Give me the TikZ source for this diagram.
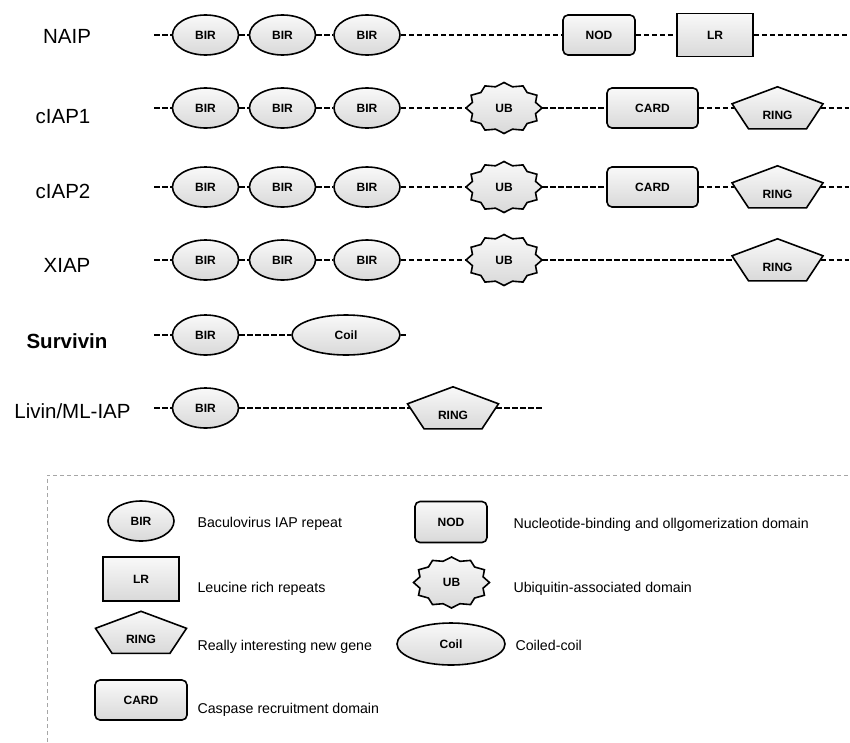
\documentclass[tikz,border=0pt]{standalone}
\usepackage{fontspec}
\setmainfont{Liberation Sans}
\usetikzlibrary{shapes.geometric, backgrounds}

\begin{document}
\begin{tikzpicture}[x=1pt, y=-1pt,
  dom/.style={draw, line width=1.6pt, top color=gray!5, bottom color=gray!30, inner sep=0pt, font=\bfseries\fontsize{12}{14}\selectfont},
  bir/.style={dom, ellipse, minimum width=66pt, minimum height=40pt},
  coil/.style={dom, ellipse, minimum width=108pt, minimum height=40pt},
  nod/.style={dom, rectangle, rounded corners=5pt, minimum width=72pt, minimum height=40pt},
  card/.style={dom, rectangle, rounded corners=5pt, minimum width=91pt, minimum height=40pt},
  lr/.style={dom, rectangle, minimum width=76pt, minimum height=43pt},
  ub/.style={ellipse, inner sep=0pt, minimum width=76pt, minimum height=51pt, font=\bfseries\fontsize{12}{14}\selectfont},
  ring/.style={rectangle, inner sep=0pt, minimum width=86pt, minimum height=42pt, text height=22pt, text depth=0pt, font=\bfseries\fontsize{12}{14}\selectfont},
  outline/.style={draw, line width=1.6pt, top color=gray!5, bottom color=gray!30},
  backbone/.style={line width=1.4pt, dash pattern=on 5.5pt off 2.5pt},
  protein/.style={anchor=base, font=\fontsize{20.5}{24}\selectfont},
  keytext/.style={anchor=base west, font=\fontsize{14.2}{17}\selectfont}]

  \useasboundingbox (0,0) rectangle (850,742);

  \node[protein] (naip) at (67,43) {NAIP};
  \node[protein] (ciap1) at (63,123.5) {cIAP1};
  \node[protein] (ciap2) at (63,198) {cIAP2};
  \node[protein] (xiap) at (67,272) {XIAP};
  \node[protein, font=\bfseries\fontsize{20.5}{24}\selectfont] (survivin) at (67,348) {Survivin};
  \node[protein] (livin) at (72.5,418) {Livin/ML-IAP};

  \coordinate (naip-s) at (154,35);
  \node[bir] (naip-b1) at (205.5,35) {BIR};
  \node[bir] (naip-b2) at (282.5,35) {BIR};
  \node[bir] (naip-b3) at (367,35) {BIR};
  \node[nod] (naip-nod) at (599,35) {NOD};
  \node[lr] (naip-lr) at (715,35) {LR};
  \coordinate (naip-e) at (849,35);

  \coordinate (ciap1-s) at (154,108);
  \node[bir] (ciap1-b1) at (205.5,108) {BIR};
  \node[bir] (ciap1-b2) at (282.5,108) {BIR};
  \node[bir] (ciap1-b3) at (367,108) {BIR};
  \node[ub] (ciap1-ub) at (504,108) {UB};
  \node[card] (ciap1-card) at (652.5,108) {CARD};
  \node[ring] (ciap1-ring) at (777.5,108) {RING};
  \coordinate (ciap1-e) at (849,108);

  \coordinate (ciap2-s) at (154,187);
  \node[bir] (ciap2-b1) at (205.5,187) {BIR};
  \node[bir] (ciap2-b2) at (282.5,187) {BIR};
  \node[bir] (ciap2-b3) at (367,187) {BIR};
  \node[ub] (ciap2-ub) at (504,187) {UB};
  \node[card] (ciap2-card) at (652.5,187) {CARD};
  \node[ring] (ciap2-ring) at (777.5,187) {RING};
  \coordinate (ciap2-e) at (849,187);

  \coordinate (xiap-s) at (154,260);
  \node[bir] (xiap-b1) at (205.5,260) {BIR};
  \node[bir] (xiap-b2) at (282.5,260) {BIR};
  \node[bir] (xiap-b3) at (367,260) {BIR};
  \node[ub] (xiap-ub) at (504,260) {UB};
  \node[ring] (xiap-ring) at (777.5,260) {RING};
  \coordinate (xiap-e) at (849,260);

  \coordinate (surv-s) at (154,335);
  \node[bir] (surv-b1) at (205.5,335) {BIR};
  \node[coil] (surv-coil) at (346,335) {Coil};
  \coordinate (surv-e) at (408,335);

  \coordinate (livin-s) at (154,408);
  \node[bir] (livin-b1) at (205.5,408) {BIR};
  \node[ring] (livin-ring) at (453,408) {RING};
  \coordinate (livin-e) at (542,408);

  \draw[backbone] (naip-s) -- (naip-b1) -- (naip-b2) -- (naip-b3) -- (naip-nod) -- (naip-lr) -- (naip-e);
  \draw[backbone] (ciap1-s) -- (ciap1-b1) -- (ciap1-b2) -- (ciap1-b3) -- (ciap1-ub) -- (ciap1-card) -- (ciap1-ring) -- (ciap1-e);
  \draw[backbone] (ciap2-s) -- (ciap2-b1) -- (ciap2-b2) -- (ciap2-b3) -- (ciap2-ub) -- (ciap2-card) -- (ciap2-ring) -- (ciap2-e);
  \draw[backbone] (xiap-s) -- (xiap-b1) -- (xiap-b2) -- (xiap-b3) -- (xiap-ub) -- (xiap-ring) -- (xiap-e);
  \draw[backbone] (surv-s) -- (surv-b1) -- (surv-coil) -- (surv-e);
  \draw[backbone] (livin-s) -- (livin-b1) -- (livin-ring) -- (livin-e);

  \draw[gray!70, line width=1pt, dash pattern=on 4pt off 3pt] (47,742) -- (47,475) -- (850,475);

  \node[bir] (key-bir) at (141,521) {BIR};
  \node[lr, minimum height=44pt] (key-lr) at (141,579) {LR};
  \node[ring] (key-ring) at (141,632.5) {RING};
  \node[card, minimum width=92pt] (key-card) at (141,700) {CARD};
  \node[nod, minimum height=41pt] (key-nod) at (451,522) {NOD};
  \node[ub] (key-ub) at (451.5,582.5) {UB};
  \node[coil, minimum height=42pt] (key-coil) at (451,644) {Coil};

  \node[keytext] (txt-bir) at (194,527) {Baculovirus IAP repeat};
  \node[keytext] (txt-lr) at (194,592) {Leucine rich repeats};
  \node[keytext] (txt-ring) at (194,650) {Really interesting new gene};
  \node[keytext] (txt-card) at (194,713) {Caspase recruitment domain};
  \node[keytext] (txt-nod) at (510,528) {Nucleotide-binding and ollgomerization domain};
  \node[keytext] (txt-ub) at (510,592) {Ubiquitin-associated domain};
  \node[keytext] (txt-coil) at (512,650) {Coiled-coil};

  \begin{scope}[on background layer]
    \foreach \n in {ciap1-ub,ciap2-ub,xiap-ub,key-ub}
      \draw[outline, shift={(\n.center)}] plot[variable=\k, samples at={0,...,23}] ({38*(1-0.14*mod(\k,2))*cos(15*\k)}, {25.5*(1-0.14*mod(\k,2))*sin(15*\k)}) -- cycle;
    \foreach \n in {ciap1-ring,ciap2-ring,xiap-ring,livin-ring,key-ring}
      \draw[outline] (\n.north) -- ++(45.5,17) -- ++(-16.5,25) -- ++(-58,0) -- ++(-16.5,-25) -- cycle;
  \end{scope}
\end{tikzpicture}
\end{document}
